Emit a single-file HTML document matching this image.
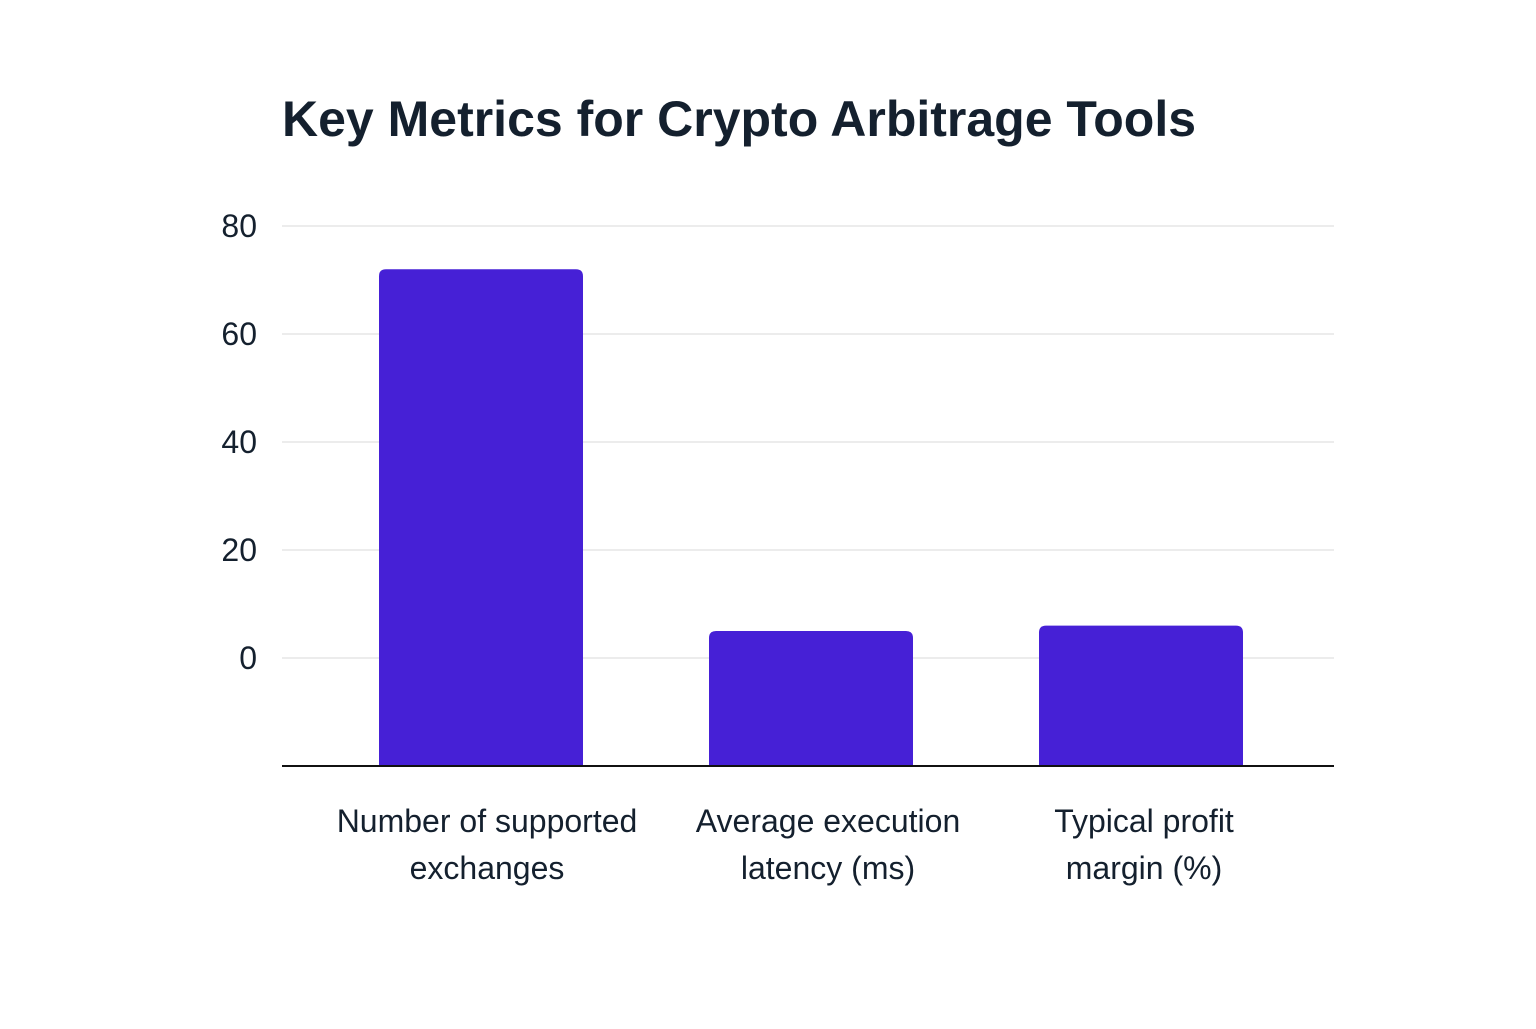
<!DOCTYPE html>
<html><head><meta charset="utf-8"><style>
html,body{margin:0;padding:0;background:#fff;}
body{width:1536px;height:1024px;overflow:hidden;font-family:"Liberation Sans",sans-serif;}
</style></head><body>
<svg width="1536" height="1024">
<text x="282" y="136" font-size="50" font-weight="bold" fill="#14202e" font-family="Liberation Sans, sans-serif">Key Metrics for Crypto Arbitrage Tools</text>
<g id="grid"></g><g id="bars"></g><g id="labels"></g>
<line x1="282" y1="766" x2="1334" y2="766" stroke="#111" stroke-width="2"/>
</svg>
<script>
const categories=[["Number of supported","exchanges"],["Average execution","latency (ms)"],["Typical profit","margin (%)"]];
const values=[72,5,6];
const ticks=[0,20,40,60,80];
const ns="http://www.w3.org/2000/svg";
function y(v){return 658-(v/20)*108;}
function xc(i){return 481+330*i;}
const baseVal=-20;
const g=document.getElementById('grid'),b=document.getElementById('bars'),l=document.getElementById('labels');
ticks.forEach(t=>{
 const ln=document.createElementNS(ns,'line');
 
 
 ln.setAttribute('x1',282);ln.setAttribute('x2',1334);ln.setAttribute('y1',y(t));ln.setAttribute('y2',y(t));
 ln.setAttribute('stroke','#e6e6e6');ln.setAttribute('stroke-width','1.5');g.appendChild(ln);
 const tx=document.createElementNS(ns,'text');
 
 
 tx.setAttribute('x',257);tx.setAttribute('y',y(t)+11);tx.setAttribute('text-anchor','end');
 tx.setAttribute('font-size','32');tx.setAttribute('fill','#14202e');tx.textContent=t;g.appendChild(tx);
});
values.forEach((v,i)=>{
 const r=document.createElementNS(ns,'path');
 
 
 const x0=xc(i)-102,x1=xc(i)+102,top=y(v),bot=y(baseVal),rr=7;
 r.setAttribute('d',`M${x0},${bot}L${x0},${top+rr}Q${x0},${top} ${x0+rr},${top}L${x1-rr},${top}Q${x1},${top} ${x1},${top+rr}L${x1},${bot}Z`);
 r.setAttribute('fill','#4620d6');b.appendChild(r);
 categories[i].forEach((s,k)=>{
  const tx=document.createElementNS(ns,'text');
  
  
  tx.setAttribute('x',xc(i)+[6,17,3][i]);tx.setAttribute('y',832+k*47);tx.setAttribute('text-anchor','middle');
  tx.setAttribute('font-size','32');tx.setAttribute('fill','#14202e');tx.textContent=s;l.appendChild(tx);
 });
});
</script>
</body></html>
